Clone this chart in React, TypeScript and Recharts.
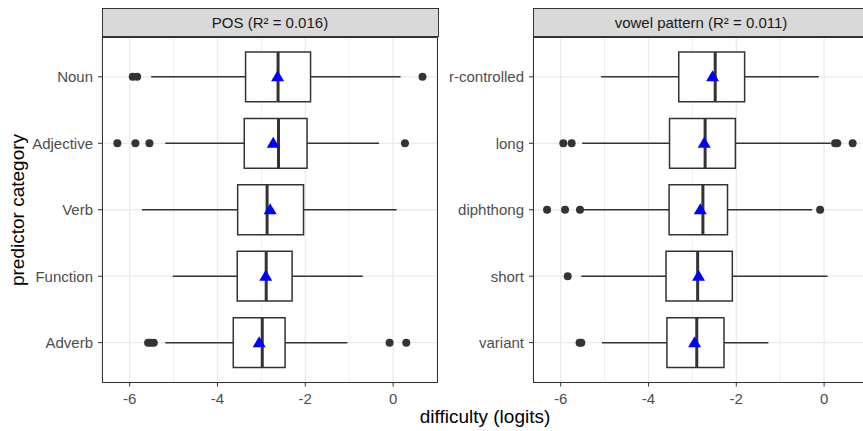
import React from 'react';
import {
  ScatterChart,
  Scatter,
  XAxis,
  YAxis,
  CartesianGrid,
  ReferenceArea,
  ReferenceLine
} from 'recharts';

const FONT = '"Liberation Sans", Arial, Helvetica, sans-serif';

// shared x scale (difficulty in logits)
const xDomain = [-6.63, 1.0];
const xTicks = [-6, -4, -2, 0];
const minorTicks = [-5, -3, -1];

// POS panel
const posTitle = 'POS (R² = 0.016)';
const posCategories = ['Noun', 'Adjective', 'Verb', 'Function', 'Adverb'];
const posLower = [-5.51, -5.19, -5.72, -5.02, -5.19];
const posQ1 = [-3.36, -3.39, -3.54, -3.55, -3.64];
const posMedian = [-2.62, -2.61, -2.87, -2.89, -2.98];
const posQ3 = [-1.88, -1.96, -2.04, -2.3, -2.46];
const posUpper = [0.17, -0.32, 0.08, -0.69, -1.04];
const posMean = [-2.63, -2.73, -2.8, -2.9, -3.05];
const posOutliers = [
  [-5.93, -5.83, 0.67],
  [-6.28, -5.87, -5.55, 0.27],
  [],
  [],
  [-5.58, -5.52, -5.45, -0.08, 0.3]
];

// vowel pattern panel
const vowelTitle = 'vowel pattern (R² = 0.011)';
const vowelCategories = ['r-controlled', 'long', 'diphthong', 'short', 'variant'];
const vowelLower = [-5.08, -5.51, -5.48, -5.53, -5.06];
const vowelQ1 = [-3.31, -3.52, -3.53, -3.6, -3.58];
const vowelMedian = [-2.48, -2.71, -2.76, -2.88, -2.9];
const vowelQ3 = [-1.81, -2.02, -2.2, -2.09, -2.28];
const vowelUpper = [-0.12, 0.15, -0.27, 0.08, -1.27];
const vowelMean = [-2.54, -2.73, -2.82, -2.86, -2.95];
const vowelOutliers = [
  [],
  [-5.94, -5.75, 0.25, 0.3, 0.65],
  [-6.31, -5.9, -5.56, -0.09],
  [-5.84],
  [-5.57, -5.53]
];

const Outlier = (props: any) => <circle cx={props.cx} cy={props.cy} r={4} fill="#333333" />;

const MeanTriangle = (props: any) => {
  const { cx, cy } = props;
  return (
    <polygon
      points={`${cx},${cy - 6.5} ${cx + 6.5},${cy + 4.5} ${cx - 6.5},${cy + 4.5}`}
      fill="#0000FF"
    />
  );
};

const BoxPanel = ({ categories, lower, q1, median, q3, upper, mean, outliers, width, axisWidth }: any) => {
  const positions = categories.map((_: string, i: number) => i + 1);
  const outlierPoints = outliers.flatMap((vals: number[], i: number) => vals.map((v) => ({ x: v, y: i + 1 })));
  const meanPoints = mean.map((v: number, i: number) => ({ x: v, y: i + 1 }));
  const tickStyle = { fill: '#4D4D4D', fontSize: 15, fontFamily: FONT };

  return (
    <ScatterChart width={width} height={431} margin={{ top: 37, right: 0, bottom: 18.5, left: 0 }}>
      <CartesianGrid xAxisId="minor" horizontal={false} stroke="#EBEBEB" strokeWidth={0.8} />
      <CartesianGrid stroke="#EBEBEB" strokeWidth={1.3} />
      <XAxis xAxisId="minor" type="number" dataKey="x" domain={xDomain} ticks={minorTicks} allowDataOverflow hide />
      <XAxis
        type="number"
        dataKey="x"
        domain={xDomain}
        ticks={xTicks}
        allowDataOverflow
        height={30}
        axisLine={false}
        tickLine={{ stroke: '#333333' }}
        tickSize={4}
        tickMargin={7}
        tick={tickStyle}
      />
      <YAxis
        type="number"
        dataKey="y"
        domain={[0.4, 5.6]}
        ticks={positions}
        allowDataOverflow
        reversed
        width={axisWidth}
        axisLine={false}
        tickLine={{ stroke: '#333333' }}
        tickSize={4}
        tickMargin={5}
        tick={tickStyle}
        tickFormatter={(v: number) => categories[v - 1]}
      />
      {positions.map((p: number, i: number) => (
        <ReferenceArea
          key={'box' + i}
          x1={q1[i]}
          x2={q3[i]}
          y1={p - 0.375}
          y2={p + 0.375}
          fill="#FFFFFF"
          fillOpacity={1}
          stroke="#333333"
          strokeWidth={1.5}
        />
      ))}
      {positions.map((p: number, i: number) => (
        <ReferenceLine
          key={'wl' + i}
          segment={[{ x: lower[i], y: p }, { x: q1[i], y: p }]}
          stroke="#333333"
          strokeWidth={1.5}
        />
      ))}
      {positions.map((p: number, i: number) => (
        <ReferenceLine
          key={'wu' + i}
          segment={[{ x: q3[i], y: p }, { x: upper[i], y: p }]}
          stroke="#333333"
          strokeWidth={1.5}
        />
      ))}
      {positions.map((p: number, i: number) => (
        <ReferenceLine
          key={'med' + i}
          segment={[{ x: median[i], y: p - 0.375 }, { x: median[i], y: p + 0.375 }]}
          stroke="#333333"
          strokeWidth={3}
        />
      ))}
      <Scatter data={outlierPoints} shape={Outlier} isAnimationActive={false} />
      <Scatter data={meanPoints} shape={MeanTriangle} isAnimationActive={false} />
    </ScatterChart>
  );
};

const stripStyle: React.CSSProperties = {
  position: 'absolute',
  top: 8,
  width: 337,
  height: 29,
  boxSizing: 'border-box',
  background: '#D9D9D9',
  border: '1px solid #333333',
  textAlign: 'center',
  lineHeight: '27px',
  fontSize: 15,
  color: '#1A1A1A',
  fontFamily: FONT
};

const borderStyle: React.CSSProperties = {
  position: 'absolute',
  top: 36.5,
  width: 336,
  height: 346.5,
  boxSizing: 'border-box',
  border: '1px solid #333333',
  pointerEvents: 'none'
};

const App = () => {
  return (
    <div
      style={{
        position: 'fixed',
        left: 0,
        top: 0,
        width: 863,
        height: 431,
        overflow: 'hidden',
        background: '#FFFFFF',
        fontFamily: FONT
      }}
    >
      <div style={{ position: 'absolute', left: 0, top: 0 }}>
        <BoxPanel
          categories={posCategories}
          lower={posLower}
          q1={posQ1}
          median={posMedian}
          q3={posQ3}
          upper={posUpper}
          mean={posMean}
          outliers={posOutliers}
          width={437}
          axisWidth={102}
        />
      </div>
      <div style={{ position: 'absolute', left: 440, top: 0 }}>
        <BoxPanel
          categories={vowelCategories}
          lower={vowelLower}
          q1={vowelQ1}
          median={vowelMedian}
          q3={vowelQ3}
          upper={vowelUpper}
          mean={vowelMean}
          outliers={vowelOutliers}
          width={428}
          axisWidth={93}
        />
      </div>

      <div style={{ ...borderStyle, left: 101.5 }} />
      <div style={{ ...borderStyle, left: 532.5 }} />
      <div style={{ ...stripStyle, left: 101.5 }}>{posTitle}</div>
      <div style={{ ...stripStyle, left: 532.5 }}>{vowelTitle}</div>

      <div
        style={{
          position: 'absolute',
          left: 385,
          top: 406,
          width: 200,
          lineHeight: '22px',
          textAlign: 'center',
          fontSize: 19,
          color: '#000000'
        }}
      >
        difficulty (logits)
      </div>
      <div
        style={{
          position: 'absolute',
          left: -62,
          top: 199,
          width: 160,
          height: 22,
          lineHeight: '22px',
          textAlign: 'center',
          fontSize: 19,
          color: '#000000',
          transform: 'rotate(-90deg)'
        }}
      >
        predictor category
      </div>
    </div>
  );
};

export default App;
